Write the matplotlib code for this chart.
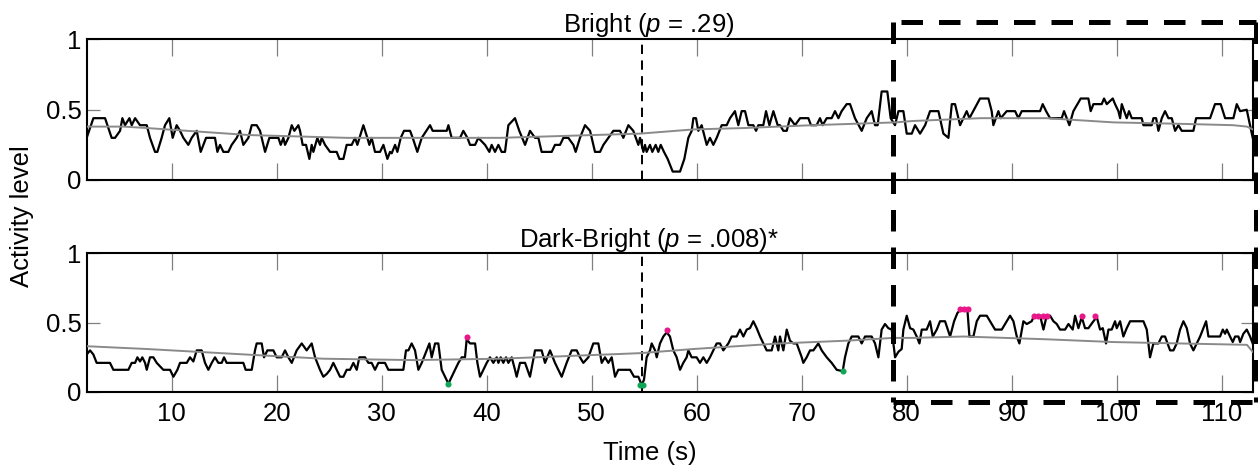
import numpy as np
import matplotlib
matplotlib.use("Agg")
import matplotlib.pyplot as plt
from matplotlib.lines import Line2D
from matplotlib import transforms

plt.rcParams['font.family'] = ['Liberation Sans', 'DejaVu Sans']
plt.rcParams['mathtext.fontset'] = 'custom'
plt.rcParams['mathtext.rm'] = 'Liberation Sans'
plt.rcParams['mathtext.it'] = 'Liberation Sans:italic'

# ---- data: (time in s, activity level) ----
bright_trace = np.array([
    [1.90, 0.30], [2.54, 0.44], [3.65, 0.44], [4.28, 0.30], [4.60, 0.30], [5.08, 0.35],
    [5.30, 0.44], [5.55, 0.39], [5.97, 0.44], [6.19, 0.39], [6.51, 0.44], [6.98, 0.39],
    [7.62, 0.39], [7.93, 0.30], [8.41, 0.20], [8.63, 0.20], [9.04, 0.30], [9.36, 0.39],
    [9.77, 0.44], [10.09, 0.30], [10.47, 0.39], [10.79, 0.35], [11.11, 0.30], [11.58, 0.25],
    [11.90, 0.30], [12.38, 0.35], [12.76, 0.20], [13.27, 0.30], [14.12, 0.30], [14.35, 0.20],
    [14.60, 0.25], [14.92, 0.20], [15.39, 0.20], [15.71, 0.25], [16.19, 0.30], [16.50, 0.35],
    [16.82, 0.25], [17.30, 0.30], [17.62, 0.39], [18.09, 0.39], [18.41, 0.35], [18.89, 0.20],
    [19.30, 0.30], [20.16, 0.30], [20.38, 0.25], [20.63, 0.30], [20.79, 0.25], [21.11, 0.30],
    [21.43, 0.39], [21.68, 0.35], [22.06, 0.39], [22.22, 0.35], [22.47, 0.25], [22.79, 0.25],
    [23.11, 0.15], [23.33, 0.25], [23.49, 0.20], [23.87, 0.30], [24.12, 0.25], [24.28, 0.30],
    [24.60, 0.25], [25.08, 0.20], [25.71, 0.20], [25.97, 0.15], [26.35, 0.15], [26.66, 0.25],
    [27.14, 0.25], [27.46, 0.30], [27.68, 0.25], [28.25, 0.39], [28.63, 0.30], [28.82, 0.25],
    [29.04, 0.30], [29.36, 0.20], [29.84, 0.20], [30.16, 0.25], [30.54, 0.15], [30.79, 0.20],
    [30.95, 0.19], [31.27, 0.25], [31.49, 0.20], [31.81, 0.30], [32.12, 0.35], [32.70, 0.35],
    [32.95, 0.30], [33.39, 0.20], [33.81, 0.30], [34.60, 0.39], [34.85, 0.35], [36.19, 0.35],
    [36.35, 0.39], [36.66, 0.30], [37.46, 0.30], [37.77, 0.35], [38.16, 0.30], [38.41, 0.25],
    [38.89, 0.25], [39.20, 0.30], [39.84, 0.25], [40.25, 0.20], [40.47, 0.25], [40.79, 0.20],
    [41.11, 0.25], [41.42, 0.20], [41.74, 0.20], [42.06, 0.39], [42.69, 0.44], [43.10, 0.35],
    [43.65, 0.25], [44.12, 0.35], [44.60, 0.30], [44.92, 0.30], [45.23, 0.20], [46.19, 0.20],
    [46.50, 0.25], [46.98, 0.25], [47.30, 0.30], [47.77, 0.30], [48.25, 0.25], [48.47, 0.20],
    [48.88, 0.30], [49.36, 0.39], [49.84, 0.35], [50.31, 0.20], [50.79, 0.20], [51.11, 0.25],
    [51.58, 0.30], [52.06, 0.35], [52.69, 0.35], [53.01, 0.30], [53.49, 0.39], [53.96, 0.35],
    [54.44, 0.25], [54.60, 0.30], [54.92, 0.20], [55.07, 0.25], [55.23, 0.20], [55.55, 0.25],
    [55.77, 0.20], [56.09, 0.25], [56.34, 0.20], [56.57, 0.25], [56.88, 0.20], [57.23, 0.15],
    [57.71, 0.06], [58.41, 0.06], [58.82, 0.15], [59.20, 0.30], [59.52, 0.35], [59.68, 0.44],
    [59.93, 0.44], [60.15, 0.35], [60.47, 0.39], [60.95, 0.25], [61.26, 0.30], [61.58, 0.25],
    [61.90, 0.30], [62.38, 0.39], [62.85, 0.39], [63.17, 0.44], [63.64, 0.49], [63.96, 0.39],
    [64.28, 0.49], [64.60, 0.49], [64.92, 0.39], [65.39, 0.39], [65.65, 0.35], [65.87, 0.39],
    [66.34, 0.39], [66.60, 0.49], [66.92, 0.39], [67.30, 0.49], [67.71, 0.39], [67.93, 0.39],
    [68.25, 0.35], [68.57, 0.35], [68.88, 0.44], [69.36, 0.39], [69.84, 0.44], [70.63, 0.44],
    [70.88, 0.39], [71.42, 0.39], [71.74, 0.44], [71.99, 0.39], [72.38, 0.44], [72.85, 0.44],
    [73.17, 0.49], [73.49, 0.44], [73.80, 0.49], [74.28, 0.54], [74.60, 0.54], [75.07, 0.44],
    [75.71, 0.35], [76.19, 0.44], [76.66, 0.49], [76.98, 0.39], [77.23, 0.39], [77.61, 0.63],
    [78.15, 0.63], [78.47, 0.44], [78.88, 0.39], [79.21, 0.49], [79.68, 0.49], [80.00, 0.33],
    [80.48, 0.33], [80.79, 0.39], [81.27, 0.33], [81.75, 0.39], [82.22, 0.49], [83.02, 0.49],
    [83.49, 0.33], [83.97, 0.30], [84.29, 0.54], [84.60, 0.54], [85.08, 0.39], [85.71, 0.49],
    [85.97, 0.44], [86.98, 0.58], [87.78, 0.58], [88.09, 0.49], [88.25, 0.39], [88.73, 0.49],
    [88.95, 0.44], [89.52, 0.49], [90.32, 0.49], [90.63, 0.44], [90.95, 0.49], [92.70, 0.49],
    [92.95, 0.54], [93.27, 0.49], [93.65, 0.44], [94.76, 0.44], [94.98, 0.49], [95.24, 0.44],
    [95.49, 0.39], [95.87, 0.49], [96.57, 0.58], [97.30, 0.58], [97.52, 0.49], [97.78, 0.54],
    [98.57, 0.54], [98.79, 0.58], [99.05, 0.54], [99.62, 0.58], [99.84, 0.54], [100.16, 0.49],
    [100.32, 0.44], [100.48, 0.54], [100.95, 0.44], [101.17, 0.49], [101.43, 0.44], [102.38, 0.44],
    [102.54, 0.39], [103.33, 0.39], [103.49, 0.44], [103.75, 0.44], [103.97, 0.35], [104.29, 0.44],
    [104.60, 0.49], [104.92, 0.44], [105.24, 0.44], [105.56, 0.35], [105.87, 0.39], [106.19, 0.35],
    [107.30, 0.35], [107.56, 0.44], [108.89, 0.44], [109.36, 0.54], [109.90, 0.54], [110.32, 0.44],
    [111.11, 0.44], [111.43, 0.54], [111.75, 0.49], [112.38, 0.50], [112.95, 0.30],
])

bright_trend = np.array([
    [1.90, 0.38], [5.40, 0.38], [7.60, 0.37], [17.3, 0.32], [26.7, 0.30], [33.0, 0.30],
    [41.3, 0.30], [54.6, 0.33], [59.7, 0.36], [64.6, 0.37], [71.0, 0.39], [78.9, 0.41],
    [80.6, 0.42], [87.0, 0.44], [93.3, 0.44], [99.7, 0.41], [106.0, 0.40], [111.1, 0.39],
    [112.4, 0.38], [112.95, 0.36],
])

contrast_trace = np.array([
    [1.90, 0.27], [2.22, 0.30], [2.54, 0.27], [2.85, 0.21], [4.12, 0.21], [4.44, 0.16],
    [5.87, 0.16], [6.19, 0.21], [6.51, 0.21], [6.73, 0.25], [6.98, 0.22], [7.20, 0.25],
    [7.46, 0.21], [7.62, 0.16], [7.93, 0.25], [8.25, 0.25], [8.57, 0.21], [9.20, 0.16],
    [9.84, 0.16], [10.16, 0.11], [10.54, 0.16], [10.79, 0.21], [11.43, 0.21], [11.74, 0.25],
    [12.06, 0.22], [12.38, 0.30], [12.85, 0.30], [13.17, 0.21], [13.49, 0.16], [13.81, 0.21],
    [14.12, 0.25], [14.44, 0.21], [14.76, 0.21], [14.98, 0.25], [15.23, 0.21], [16.82, 0.21],
    [17.04, 0.16], [17.62, 0.16], [17.93, 0.30], [18.09, 0.35], [18.57, 0.35], [18.79, 0.25],
    [19.11, 0.30], [19.68, 0.30], [20.00, 0.25], [20.47, 0.25], [20.79, 0.30], [21.11, 0.25],
    [21.43, 0.21], [21.90, 0.30], [22.38, 0.35], [22.85, 0.30], [23.33, 0.35], [23.65, 0.25],
    [24.12, 0.16], [24.44, 0.11], [24.76, 0.13], [25.08, 0.16], [25.39, 0.21], [25.71, 0.16],
    [26.03, 0.11], [26.35, 0.11], [26.66, 0.16], [26.98, 0.16], [27.30, 0.21], [27.62, 0.16],
    [27.87, 0.25], [28.41, 0.25], [28.73, 0.21], [29.04, 0.21], [29.36, 0.16], [29.68, 0.21],
    [30.31, 0.21], [30.63, 0.16], [32.06, 0.16], [32.31, 0.30], [32.54, 0.30], [32.85, 0.35],
    [33.17, 0.30], [33.49, 0.16], [33.81, 0.21], [34.28, 0.30], [34.54, 0.35], [34.76, 0.25],
    [35.08, 0.35], [35.39, 0.35], [35.71, 0.16], [36.03, 0.11], [36.35, 0.06], [36.66, 0.11],
    [36.98, 0.16], [37.30, 0.21], [37.62, 0.25], [37.93, 0.25], [38.09, 0.38], [38.41, 0.35],
    [38.89, 0.35], [39.11, 0.21], [39.36, 0.11], [39.68, 0.16], [40.00, 0.21], [40.31, 0.25],
    [40.63, 0.21], [40.95, 0.25], [41.11, 0.21], [41.33, 0.25], [41.58, 0.21], [41.84, 0.25],
    [42.06, 0.21], [42.38, 0.25], [42.69, 0.16], [42.85, 0.11], [43.17, 0.21], [43.65, 0.21],
    [44.12, 0.11], [44.60, 0.30], [45.23, 0.30], [45.55, 0.21], [46.03, 0.30], [46.50, 0.21],
    [47.14, 0.11], [47.61, 0.21], [48.09, 0.30], [48.57, 0.30], [48.88, 0.25], [49.20, 0.21],
    [49.68, 0.25], [50.15, 0.35], [50.63, 0.35], [50.95, 0.21], [51.26, 0.25], [51.58, 0.21],
    [51.90, 0.25], [52.22, 0.11], [52.53, 0.16], [53.65, 0.16], [54.03, 0.11], [54.44, 0.11],
    [54.76, 0.05], [54.98, 0.09], [55.23, 0.25], [55.55, 0.30], [55.71, 0.35], [56.03, 0.30],
    [56.19, 0.25], [56.50, 0.35], [56.82, 0.40], [57.14, 0.43], [57.45, 0.40], [57.77, 0.30],
    [58.09, 0.25], [58.41, 0.16], [58.72, 0.21], [59.04, 0.25], [59.20, 0.30], [59.52, 0.25],
    [59.99, 0.25], [60.31, 0.21], [60.63, 0.25], [60.95, 0.21], [61.26, 0.25], [61.58, 0.30],
    [61.90, 0.35], [62.22, 0.35], [62.53, 0.30], [63.01, 0.35], [63.33, 0.40], [63.80, 0.40],
    [64.12, 0.45], [64.44, 0.40], [64.76, 0.45], [65.07, 0.46], [65.39, 0.51], [65.71, 0.46],
    [66.03, 0.40], [66.34, 0.35], [66.66, 0.30], [67.14, 0.30], [67.46, 0.40], [67.77, 0.30],
    [67.93, 0.40], [68.25, 0.30], [68.57, 0.45], [68.88, 0.37], [69.20, 0.35], [69.52, 0.35],
    [70.00, 0.25], [70.15, 0.21], [70.47, 0.25], [70.79, 0.30], [71.11, 0.30], [71.58, 0.35],
    [71.90, 0.30], [72.38, 0.25], [72.85, 0.21], [73.33, 0.16], [73.90, 0.15], [74.12, 0.25],
    [74.44, 0.35], [74.76, 0.40], [75.39, 0.40], [75.71, 0.35], [76.03, 0.40], [76.66, 0.40],
    [76.98, 0.35], [77.30, 0.25], [77.61, 0.45], [77.93, 0.49], [78.25, 0.46], [78.57, 0.45],
    [78.89, 0.25], [79.21, 0.29], [79.52, 0.31], [79.68, 0.45], [80.00, 0.55], [80.32, 0.46],
    [80.63, 0.45], [80.95, 0.40], [81.21, 0.35], [81.43, 0.45], [81.90, 0.45], [82.22, 0.51],
    [82.48, 0.40], [82.86, 0.45], [83.17, 0.51], [83.65, 0.51], [84.13, 0.40], [84.51, 0.51],
    [84.83, 0.57], [85.08, 0.59], [85.78, 0.59], [85.97, 0.40], [86.35, 0.40], [86.67, 0.51],
    [86.98, 0.55], [87.62, 0.55], [87.94, 0.51], [88.41, 0.45], [89.05, 0.45], [89.52, 0.51],
    [89.84, 0.55], [90.16, 0.51], [90.48, 0.40], [90.73, 0.35], [91.11, 0.51], [91.43, 0.49],
    [91.90, 0.51], [92.13, 0.55], [92.70, 0.55], [93.02, 0.45], [93.33, 0.55], [93.65, 0.55],
    [93.97, 0.51], [94.29, 0.49], [94.60, 0.45], [95.08, 0.45], [95.40, 0.49], [95.81, 0.45],
    [96.03, 0.55], [96.35, 0.46], [96.67, 0.54], [96.98, 0.46], [97.30, 0.46], [97.78, 0.51],
    [98.10, 0.54], [98.41, 0.45], [98.67, 0.46], [98.98, 0.35], [99.21, 0.45], [99.52, 0.45],
    [99.84, 0.51], [100.00, 0.46], [100.32, 0.51], [100.63, 0.40], [100.95, 0.46], [101.27, 0.51],
    [102.54, 0.51], [102.86, 0.45], [103.17, 0.25], [103.49, 0.35], [103.97, 0.35], [104.29, 0.40],
    [104.60, 0.40], [105.08, 0.30], [105.40, 0.30], [105.71, 0.35], [106.03, 0.45], [106.35, 0.51],
    [106.67, 0.46], [106.98, 0.35], [107.30, 0.30], [107.62, 0.35], [107.94, 0.40], [108.25, 0.46],
    [108.51, 0.51], [108.73, 0.40], [109.84, 0.40], [110.10, 0.45], [110.32, 0.42], [110.48, 0.45],
    [110.79, 0.40], [111.05, 0.36], [111.27, 0.40], [111.59, 0.40], [111.75, 0.36], [112.06, 0.42],
    [112.38, 0.45], [112.70, 0.40], [112.95, 0.35],
])

contrast_trend = np.array([
    [1.90, 0.33], [7.60, 0.31], [17.1, 0.27], [24.4, 0.24], [33.0, 0.23], [41.3, 0.24],
    [54.6, 0.28], [59.7, 0.31], [67.9, 0.35], [74.3, 0.37], [78.7, 0.39], [80.6, 0.39],
    [85.4, 0.40], [93.3, 0.38], [99.7, 0.36], [106.0, 0.35], [112.4, 0.34], [112.95, 0.29],
])

# significant high / low points in the contrast trace
high_points = np.array([
    [38.09, 0.40], [57.20, 0.45], [85.08, 0.60], [85.46, 0.60], [85.84, 0.60],
    [92.13, 0.55], [92.54, 0.55], [92.95, 0.55], [93.33, 0.55], [96.73, 0.55], [97.94, 0.55],
])
low_points = np.array([
    [36.35, 0.06], [54.60, 0.05], [54.90, 0.05], [73.90, 0.15],
])

panel_titles = [r'Bright ($p$ = .29)', r'Dark-Bright ($p$ = .008)*']
x_ticks = [10, 20, 30, 40, 50, 60, 70, 80, 90, 100, 110]
y_ticks = [0, 0.5, 1]
y_ticklabels = ['0', '0.5', '1']
x_range = (1.9, 112.95)
stimulus_time = 54.76      # thin dashed marker
window_start = 78.7        # start of the highlighted window
window_end = 113.3

FS = 18.5
TRACE_COLOR = 'black'
TREND_COLOR = '#8a8a8a'
HIGH_COLOR = '#e8178a'
LOW_COLOR = '#11a655'

fig = plt.figure(figsize=(12.58, 4.68), dpi=100)
ax_top = fig.add_axes([0.0689, 0.6154, 0.9269, 0.3002])
ax_bot = fig.add_axes([0.0689, 0.1624, 0.9269, 0.2964])


def style_axes(ax, show_xlabels):
    ax.set_xlim(*x_range)
    ax.set_ylim(0, 1)
    ax.set_xticks(x_ticks)
    ax.set_yticks(y_ticks)
    ax.set_yticklabels(y_ticklabels)
    for sp in ax.spines.values():
        sp.set_linewidth(1.5)
        sp.set_color('black')
    ax.tick_params(axis='x', direction='in', length=12.5, width=0.9, color='#808080',
                   top=True, bottom=True, labelsize=FS, pad=7,
                   labelbottom=show_xlabels)
    ax.tick_params(axis='y', direction='in', length=9, width=0.9, color='#808080',
                   left=True, right=True, labelsize=FS, pad=3.5, labelright=False)
    ax.axvline(stimulus_time, color='black', lw=1.4, ls=(0, (4.8, 3.3)), zorder=1)


for ax, trace, trend in ((ax_top, bright_trace, bright_trend),
                         (ax_bot, contrast_trace, contrast_trend)):
    ax.plot(trace[:, 0], trace[:, 1], color=TRACE_COLOR, lw=1.6, zorder=2)
    ax.plot(trend[:, 0], trend[:, 1], color=TREND_COLOR, lw=1.4, zorder=3)

ax_bot.plot(high_points[:, 0], high_points[:, 1], 'o', color=HIGH_COLOR, ms=4.4,
            mec='none', zorder=4, clip_on=False)
ax_bot.plot(low_points[:, 0], low_points[:, 1], 'o', color=LOW_COLOR, ms=4.4,
            mec='none', zorder=4, clip_on=False)

style_axes(ax_top, False)
style_axes(ax_bot, True)

# panel titles
title_x = 0.5159
fig.text(title_x, 0.9323, panel_titles[0], ha='center', va='baseline', fontsize=FS)
fig.text(title_x, 0.4729, panel_titles[1], ha='center', va='baseline', fontsize=FS)

# shared axis labels
fig.text(0.5163, 1 - 460 / 468, 'Time (s)', ha='center', va='baseline', fontsize=FS)
fig.text(22 / 1258, 1 - 216 / 468, 'Activity level', rotation=90, ha='center',
         va='center', fontsize=FS)

# thick dashed frame around the late window, spanning both panels
tr = transforms.blended_transform_factory(ax_bot.transData, fig.transFigure)
box_top, box_bottom = 0.9523, 0.140
dash = (0, (4.3, 3.2))
frame_edges = [
    ([window_start, window_start], [box_top, box_bottom]),
    ([window_start + 0.8, window_end], [box_top, box_top]),
    ([window_end, window_end], [box_top, box_bottom]),
    ([window_start, window_end], [box_bottom, box_bottom]),
]
for xs, ys in frame_edges:
    fig.add_artist(Line2D(xs, ys, transform=tr, color='black', lw=3.6, ls=dash,
                          solid_capstyle='butt', dash_capstyle='butt', zorder=10))

fig.savefig('out.png', dpi=100)
